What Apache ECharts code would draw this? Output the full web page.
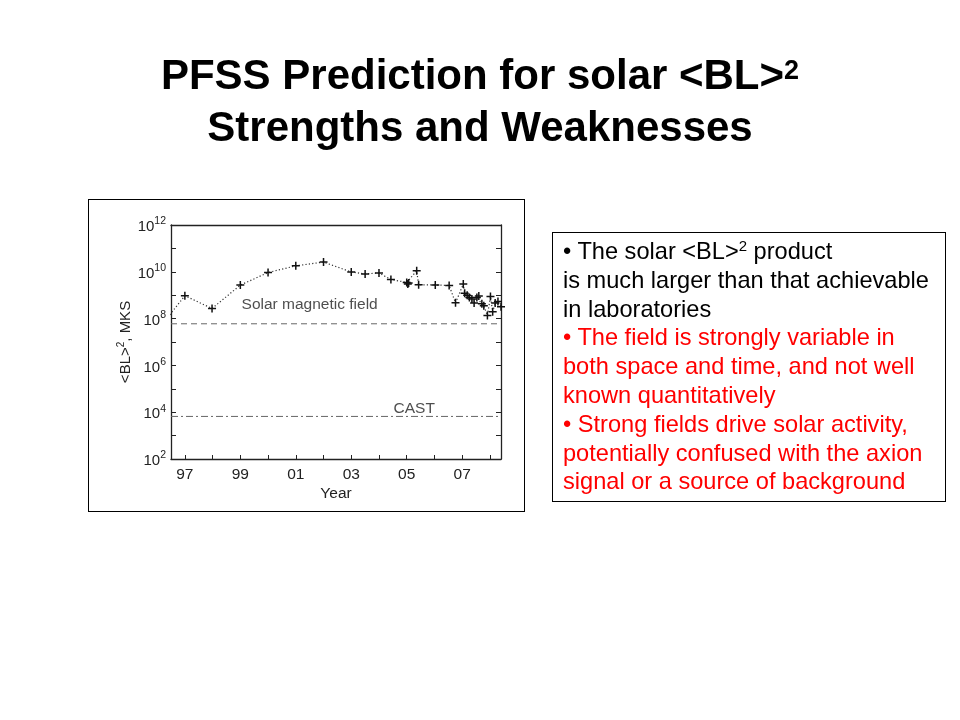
<!DOCTYPE html>
<html>
<head>
<meta charset="utf-8">
<script src="https://cdn.jsdelivr.net/npm/echarts@6/dist/echarts.min.js"></script>
<style>
  html, body { margin: 0; padding: 0; background: #fff; }
  #wrap { position: relative; width: 960px; height: 720px; overflow: hidden; font-family: "Liberation Sans", Arial, sans-serif; }
  #chart { position: absolute; left: 0; top: 0; width: 960px; height: 720px; }
  #title { position: absolute; left: 0; top: 49px; width: 960px; text-align: center; font-weight: bold; font-size: 42px; line-height: 52px; color: #000; }
  #title sup { font-size: 27px; vertical-align: baseline; position: relative; top: -10px; line-height: 0; }
  #frame { position: absolute; left: 88px; top: 199px; width: 437px; height: 313px; border: 1px solid #000; box-sizing: border-box; pointer-events: none; }
  #box { position: absolute; left: 552px; top: 232px; width: 394px; height: 270px; border: 1px solid #000; box-sizing: border-box; padding: 4px 0 0 10px; font-size: 23.6px; line-height: 28.8px; white-space: nowrap; color: #000; }
  #box sup { font-size: 15px; vertical-align: baseline; line-height: 0; position: relative; top: -8px; }
  .red { color: #f00; }
</style>
</head>
<body>
<div id="wrap">
  <div id="chart"></div>
  <div id="title">PFSS Prediction for solar &lt;BL&gt;<sup>2</sup><br>Strengths and Weaknesses</div>
  <div id="frame"></div>
  <div id="box">• The solar &lt;BL&gt;<sup>2</sup> product<br>is much larger than that achievable<br>in laboratories<br><span class="red">• The field is strongly variable in<br>both space and time, and not well<br>known quantitatively<br>• Strong fields drive solar activity,<br>potentially confused with the axion<br>signal or a source of background</span></div>
</div>
<script>
// Data
const years = [1996.0, 1997.0, 1997.98, 1999.0, 2000.0, 2001.0, 2002.0, 2003.0, 2003.5, 2004.0, 2004.43,
  2005.0, 2005.04, 2005.07, 2005.36, 2005.43, 2006.03, 2006.53, 2006.76, 2007.04, 2007.09, 2007.18,
  2007.26, 2007.35, 2007.43, 2007.53, 2007.60, 2007.71, 2007.78, 2007.91, 2008.02, 2008.10, 2008.19,
  2008.29, 2008.40];
const bl2 = [3.0e7, 9.5e8, 2.7e8, 2.7e9, 9.3e9, 1.8e10, 2.6e10, 9.8e9, 8.1e9, 8.9e9, 4.7e9,
  3.5e9, 3.0e9, 3.3e9, 1.1e10, 2.8e9, 2.75e9, 2.6e9, 4.7e8, 3.0e9, 1.2e9, 1.0e9,
  7.9e8, 6.9e8, 4.6e8, 7.9e8, 9.3e8, 4.3e8, 3.5e8, 1.35e8, 8.7e8, 1.95e8, 4.6e8,
  5.4e8, 3.2e8];
const solarLevel = 6.0e7;
const castLevel = 6.6e3;
const xRange = [1996.5, 2008.4];
const yRange = [1e2, 1e12];
const xTickYears = [1997, 1998, 1999, 2000, 2001, 2002, 2003, 2004, 2005, 2006, 2007, 2008];
const xLabelYears = [1997, 1999, 2001, 2003, 2005, 2007];
const yTickValues = [1e2, 1e3, 1e4, 1e5, 1e6, 1e7, 1e8, 1e9, 1e10, 1e11, 1e12];
const yLabelValues = [1e2, 1e4, 1e6, 1e8, 1e10, 1e12];
const annotations = [
  { x: 2001.5, y: 4.0e8, text: 'Solar magnetic field' },
  { x: 2005.27, y: 1.4e4, text: 'CAST' }
];

const chart = echarts.init(document.getElementById('chart'), null, { renderer: 'canvas' });
const font = '"Liberation Sans", Arial, sans-serif';
const axisColor = '#222';
const plus = 'path://M3.25,0H4.75V3.25H8V4.75H4.75V8H3.25V4.75H0V3.25H3.25Z';

const mainData = years.map((y, i) => [y, bl2[i]]);

chart.setOption({
  animation: false,
  textStyle: { fontFamily: font },
  grid: { left: 171, top: 225, width: 330, height: 234, containLabel: false },
  xAxis: [{
    type: 'value', min: xRange[0], max: xRange[1],
    name: 'Year', nameLocation: 'middle', nameGap: 27,
    nameTextStyle: { fontSize: 15.5, color: axisColor, fontFamily: font },
    axisLine: { show: true, lineStyle: { color: axisColor, width: 1.3 } },
    axisTick: { show: true, inside: true, length: 4, customValues: xTickYears, lineStyle: { color: axisColor } },
    axisLabel: { show: true, customValues: xLabelYears, margin: 8, fontSize: 15.5, color: axisColor, fontFamily: font,
      formatter: v => String(Math.round(v) % 100).padStart(2, '0') },
    splitLine: { show: false }
  }, {
    type: 'value', position: 'top', min: xRange[0], max: xRange[1],
    axisLine: { show: true, lineStyle: { color: axisColor, width: 1.3 } },
    axisTick: { show: false }, axisLabel: { show: false }, splitLine: { show: false }
  }],
  yAxis: [{
    type: 'log', logBase: 10, min: yRange[0], max: yRange[1],
    name: '{a|<BL>}{s|2}{a|, MKS}', nameLocation: 'middle', nameGap: 33, nameRotate: 90,
    nameTextStyle: { color: axisColor, fontFamily: font,
      rich: { a: { fontSize: 15, lineHeight: 20, color: axisColor, fontFamily: font },
              s: { fontSize: 10, lineHeight: 12, verticalAlign: 'top', color: axisColor, fontFamily: font } } },
    axisLine: { show: true, lineStyle: { color: axisColor, width: 1.3 } },
    axisTick: { show: true, inside: true, length: 5, customValues: yTickValues, lineStyle: { color: axisColor } },
    axisLabel: { show: true, customValues: yLabelValues, margin: 5, color: axisColor, fontFamily: font,
      formatter: v => '{b|10}{s|' + Math.round(Math.log10(v)) + '}',
      rich: { b: { fontSize: 15, lineHeight: 18, padding: [4, 0, 0, 0], color: axisColor, fontFamily: font },
              s: { fontSize: 10.5, lineHeight: 10, verticalAlign: 'top', color: axisColor, fontFamily: font } } },
    splitLine: { show: false }
  }, {
    type: 'log', logBase: 10, min: yRange[0], max: yRange[1], position: 'right',
    axisLine: { show: true, lineStyle: { color: axisColor, width: 1.3 } },
    axisTick: { show: true, inside: true, length: 5, customValues: yTickValues, lineStyle: { color: axisColor } },
    axisLabel: { show: false }, splitLine: { show: false }
  }],
  series: [{
    name: 'Solar magnetic field', type: 'line', xAxisIndex: 0, yAxisIndex: 0,
    data: mainData, clip: true,
    symbol: plus, symbolSize: 8, showAllSymbol: true,
    itemStyle: { color: '#111' },
    lineStyle: { color: '#333', width: 1.2, type: [1.2, 2.2] }
  }, {
    name: 'solar level', type: 'line', data: [[xRange[0], solarLevel], [xRange[1], solarLevel]],
    symbol: 'none', lineStyle: { color: '#666', width: 1, type: [6, 4] }
  }, {
    name: 'CAST', type: 'line', data: [[xRange[0], castLevel], [xRange[1], castLevel]],
    symbol: 'none', lineStyle: { color: '#666', width: 1, type: [7, 3, 2, 3] }
  }, {
    name: 'labels', type: 'scatter', symbolSize: 0,
    data: annotations.map(a => ({ value: [a.x, a.y], label: { show: true, position: 'inside', formatter: a.text,
      fontSize: 15.5, color: '#222', fontFamily: font } })),
    silent: true
  }]
});
</script>
</body>
</html>
